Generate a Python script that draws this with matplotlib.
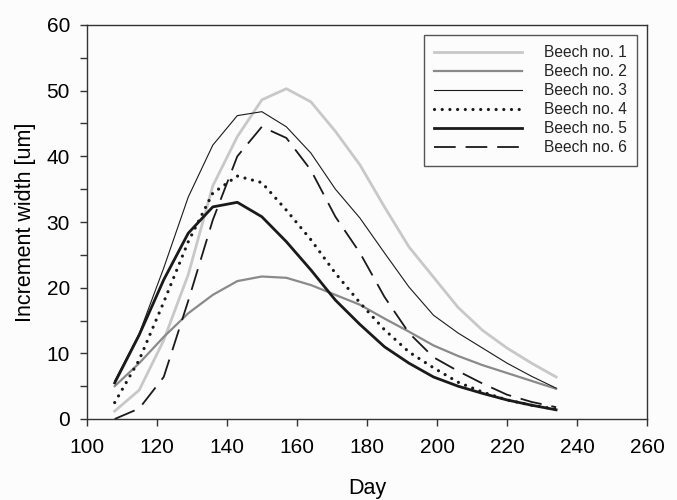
import matplotlib
matplotlib.use("Agg")
import matplotlib.pyplot as plt
from matplotlib.ticker import MultipleLocator

plt.rcParams['font.family'] = ['Liberation Sans', 'DejaVu Sans']

# days of measurement
days = [108, 115, 122, 129, 136, 143, 150, 157, 164, 171, 178, 185, 192, 199, 206, 213, 220, 227, 234]

beech1 = [1.2, 4.4, 12.0, 22.0, 35.5, 43.0, 48.6, 50.3, 48.3, 43.8, 38.7, 32.3, 26.2, 21.6, 17.0, 13.5, 10.8, 8.5, 6.4]
beech2 = [5.0, 8.5, 12.5, 16.1, 18.9, 21.0, 21.7, 21.5, 20.4, 18.9, 17.4, 15.3, 13.3, 11.2, 9.6, 8.2, 7.0, 5.8, 4.6]
beech3 = [5.8, 13.0, 23.0, 33.8, 41.7, 46.2, 46.8, 44.5, 40.5, 35.0, 30.6, 25.3, 20.1, 15.8, 13.1, 10.8, 8.5, 6.5, 4.7]
beech4 = [2.5, 9.0, 17.8, 27.0, 34.4, 37.0, 36.0, 31.8, 27.3, 22.2, 17.7, 13.6, 10.2, 7.8, 5.6, 4.1, 2.9, 2.1, 1.5]
beech5 = [5.5, 12.8, 21.2, 28.3, 32.3, 33.0, 30.8, 27.0, 22.7, 18.1, 14.4, 11.0, 8.5, 6.4, 5.0, 3.9, 2.9, 2.1, 1.4]
beech6 = [0.0, 1.6, 6.4, 18.0, 30.3, 40.0, 44.5, 42.8, 37.9, 30.8, 25.3, 18.6, 13.1, 9.4, 7.3, 5.4, 3.7, 2.6, 1.8]

labels = ["Beech no. 1", "Beech no. 2", "Beech no. 3", "Beech no. 4", "Beech no. 5", "Beech no. 6"]

fig = plt.figure(figsize=(6.77, 5), dpi=100, facecolor='#fcfcfc')
ax = fig.add_axes([0.128, 0.162, 0.828, 0.788])
ax.set_facecolor('#fcfcfc')

ax.plot(days, beech1, color='#c8c8c8', lw=2.0, label=labels[0])
ax.plot(days, beech2, color='#8a8a8a', lw=1.6, label=labels[1])
ax.plot(days, beech3, color='#1a1a1a', lw=0.8, label=labels[2])
ax.plot(days, beech4, color='#1a1a1a', lw=2.3, linestyle=(0, (0.01, 2.4)),
        dash_capstyle='round', label=labels[3])
ax.plot(days, beech5, color='#1a1a1a', lw=2.0, label=labels[4])
ax.plot(days, beech6, color='#1a1a1a', lw=1.3, linestyle=(0, (12, 5.5)), label=labels[5])

ax.set_xlim(100, 260)
ax.set_ylim(0, 60)
ax.xaxis.set_major_locator(MultipleLocator(20))
ax.yaxis.set_major_locator(MultipleLocator(10))
ax.yaxis.set_minor_locator(MultipleLocator(5))
ax.tick_params(axis='both', which='both', direction='out', color='#333333', labelsize=15, width=1)
ax.tick_params(axis='both', which='major', length=5)
ax.tick_params(axis='y', which='minor', length=5)
ax.tick_params(axis='x', pad=9)
ax.tick_params(axis='y', pad=7)
for s in ax.spines.values():
    s.set_color('#333333')
    s.set_linewidth(1.0)

ax.set_xlabel("Day", fontsize=15.5, labelpad=15)
ax.set_ylabel("Increment width [um]", fontsize=15.5, labelpad=8)

leg = ax.legend(loc='upper right', fontsize=11.2, frameon=True, fancybox=False,
                edgecolor='#555555', facecolor='#fcfcfc', framealpha=1,
                handlelength=5.7, handletextpad=1.4, labelspacing=0.26,
                borderpad=0.65, borderaxespad=0.65)
leg.get_frame().set_linewidth(1.0)
for t in leg.get_texts():
    t.set_color('#222222')

fig.savefig("out.png", dpi=100, facecolor=fig.get_facecolor())
